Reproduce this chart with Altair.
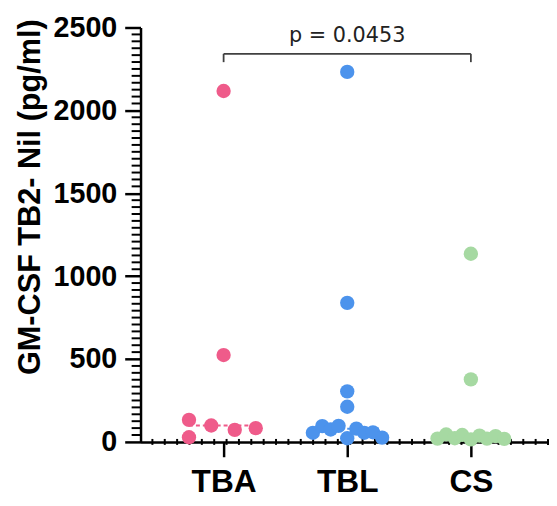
import altair as alt
import pandas as pd

# ---- data ----
groups = ["TBA", "TBL", "CS"]
colors = ["#EF5B8A", "#4C93EC", "#A6D9A2"]

tba_values = [2117, 524, 133, 28, 99, 73, 83]
tba_offsets = [0.0, 0.0, -0.28, -0.28, -0.10, 0.09, 0.26]

tbl_values = [2232, 839, 305, 212, 55, 95, 75, 97, 22, 80, 55, 58, 26]
tbl_offsets = [0.0, 0.0, 0.0, 0.0, -0.278, -0.202, -0.134, -0.07, 0.0, 0.074, 0.138, 0.208, 0.282]

cs_values = [1135, 377, 20, 45, 22, 42, 15, 38, 20, 35, 18]
cs_offsets = [0.0, 0.0, -0.27, -0.2, -0.13, -0.07, 0.0, 0.07, 0.13, 0.2, 0.27]

y_ticks = [0, 500, 1000, 1500, 2000, 2500]
p_text = "p = 0.0453"
bracket_pair = [1, 3]          # TBA vs CS
bracket_top = 2341
bracket_drop = 2291
p_text_y = 2410
median_halfwidth = 0.28

# ---- tables ----
rows = []
for gi, (vals, offs) in enumerate([(tba_values, tba_offsets),
                                   (tbl_values, tbl_offsets),
                                   (cs_values, cs_offsets)]):
    for v, o in zip(vals, offs):
        rows.append({"group": groups[gi], "pos": gi + 1 + o, "value": v})
df = pd.DataFrame(rows)

med = df.groupby("group", sort=False)["value"].median().reset_index()
med["center"] = [groups.index(g) + 1 for g in med["group"]]
med["lo"] = med["center"] - median_halfwidth
med["hi"] = med["center"] + median_halfwidth

minor_y = pd.DataFrame({"mv": [k * 500 / 12 for k in range(61) if k % 12 != 0]})
minor_x = pd.DataFrame({"mx": [0.424 + 0.1 * k for k in range(33)]})

bracket_h = pd.DataFrame({"x": [bracket_pair[0]], "x2": [bracket_pair[1]], "y": [bracket_top]})
bracket_v = pd.DataFrame({"x": bracket_pair, "y": [bracket_top] * 2, "y2": [bracket_drop] * 2})
ptext = pd.DataFrame({"x": [sum(bracket_pair) / 2], "y": [p_text_y], "t": [p_text]})

# ---- scales / axes ----
W, H = 413, 419
xscale = alt.Scale(domain=[0.328, 0.328 + W / 125], nice=False, zero=False)
yscale = alt.Scale(domain=[0, 2500], nice=False)

label_expr = " : ".join(
    [f"datum.value == {i + 1} ? '{g}'" for i, g in enumerate(groups[:-1])]
) + f" : '{groups[-1]}'"

xaxis = alt.Axis(values=[1, 2, 3], labelExpr=label_expr, title="", grid=False,
                 tickSize=15, tickWidth=2.5, tickColor="black",
                 domainWidth=2.5, domainColor="black",
                 labelFont="Liberation Sans", labelFontSize=32, labelFontWeight="bold",
                 labelColor="black", labelPadding=10)
yaxis = alt.Axis(values=y_ticks, format="d", title="GM-CSF TB2- Nil (pg/ml)", grid=False,
                 tickSize=16, tickWidth=2.5, tickColor="black",
                 domainWidth=2.5, domainColor="black",
                 labelFont="Liberation Sans", labelFontSize=29, labelFontWeight="bold",
                 labelColor="black", labelPadding=8,
                 titleFont="Liberation Sans", titleFontSize=31, titleFontWeight="bold",
                 titleColor="black", titleAngle=270, titleX=-102, titleY=171,
                 titleBaseline="alphabetic", titleAlign="center")

color = alt.Color("group:N", scale=alt.Scale(domain=groups, range=colors), legend=None)

ytick_layer = alt.Chart(minor_y).mark_rule(color="black", strokeWidth=2).encode(
    y=alt.Y("mv:Q", scale=yscale, axis=yaxis),
    x=alt.value(-9), x2=alt.value(0))

xtick_layer = alt.Chart(minor_x).mark_rule(color="black", strokeWidth=2).encode(
    x=alt.X("mx:Q", scale=xscale, axis=xaxis),
    y=alt.value(H - 3), y2=alt.value(H + 3))

median_layer = alt.Chart(med).mark_rule(strokeWidth=2, strokeDash=[4, 3]).encode(
    x=alt.X("lo:Q", scale=xscale, axis=xaxis), x2="hi:Q",
    y=alt.Y("value:Q", scale=yscale, axis=yaxis), color=color)

points = alt.Chart(df).mark_circle(size=210, opacity=1).encode(
    x=alt.X("pos:Q", scale=xscale, axis=xaxis),
    y=alt.Y("value:Q", scale=yscale, axis=yaxis),
    color=color)

br_h = alt.Chart(bracket_h).mark_rule(color="#404040", strokeWidth=1.8).encode(
    x=alt.X("x:Q", scale=xscale, axis=xaxis), x2="x2:Q",
    y=alt.Y("y:Q", scale=yscale, axis=yaxis))
br_v = alt.Chart(bracket_v).mark_rule(color="#404040", strokeWidth=1.8).encode(
    x=alt.X("x:Q", scale=xscale, axis=xaxis),
    y=alt.Y("y:Q", scale=yscale, axis=yaxis), y2="y2:Q")

txt = alt.Chart(ptext).mark_text(font="DejaVu Sans", fontSize=21, color="#222222",
                                 baseline="alphabetic", align="center").encode(
    x=alt.X("x:Q", scale=xscale, axis=xaxis),
    y=alt.Y("y:Q", scale=yscale, axis=yaxis), text="t:N")

chart = alt.layer(ytick_layer, xtick_layer, median_layer, points, br_h, br_v, txt).properties(
    width=W, height=H,
    padding={"left": 134, "top": 17, "right": 0, "bottom": 55},
    autosize=alt.AutoSizeParams(type="none"),
    background="white",
).configure_view(stroke=None)

chart.save("out.html", embed_options={"renderer": "svg", "actions": False})
